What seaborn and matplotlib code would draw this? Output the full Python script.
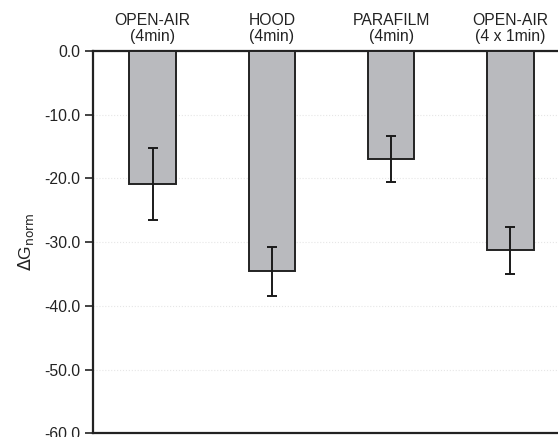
import matplotlib
matplotlib.use("Agg")
import matplotlib.pyplot as plt
import seaborn as sns
import pandas as pd

categories = ["OPEN-AIR\n(4min)", "HOOD\n(4min)", "PARAFILM\n(4min)", "OPEN-AIR\n(4 x 1min)"]
delta_g = [-20.9, -34.6, -17.0, -31.3]
errors = [5.6, 3.85, 3.6, 3.7]
y_ticks = [0, -10, -20, -30, -40, -50, -60]

sns.set_style("white")
plt.rcParams["font.family"] = ["Liberation Sans", "DejaVu Sans"]

df = pd.DataFrame({"condition": categories, "dG": delta_g})

fig = plt.figure(figsize=(5.58, 4.37), dpi=100)
ax = fig.add_axes([0.1667, 0.0085, 0.855, 0.8753])

sns.barplot(data=df, x="condition", y="dG", color="#b9babe", width=0.39,
            edgecolor="#222222", linewidth=1.4, saturation=1, errorbar=None,
            ax=ax, zorder=3)
ax.errorbar(range(len(categories)), delta_g, yerr=errors, fmt="none",
            ecolor="#1a1a1a", elinewidth=1.4, capsize=3.5, capthick=1.4, zorder=4)

ax.set_ylim(-60, 0)
ax.set_xlim(-0.5, 3.5)
ax.set_yticks(y_ticks)
ax.set_yticklabels([f"{v:.1f}" for v in y_ticks], fontsize=11.3, color="#222222")
ax.yaxis.grid(True, color="#e6e6e6", linestyle=":", linewidth=0.8, zorder=0)

ax.xaxis.tick_top()
ax.xaxis.set_label_position("top")
ax.tick_params(axis="x", length=0, pad=5, labelsize=11.3, labelcolor="#222222")
ax.tick_params(axis="y", left=True, length=6, width=1.2, color="#222222", pad=3)
for lbl in ax.get_xticklabels():
    lbl.set_linespacing(1.1)

ax.set_xlabel("")
ax.set_ylabel(r"$\Delta$G$_{\mathrm{norm}}$", fontsize=12.5, color="#222222", labelpad=6)

for side in ["top", "left", "bottom"]:
    ax.spines[side].set_visible(True)
    ax.spines[side].set_color("#222222")
    ax.spines[side].set_linewidth(1.6)
ax.spines["right"].set_visible(False)

fig.savefig("out.png", dpi=100)
